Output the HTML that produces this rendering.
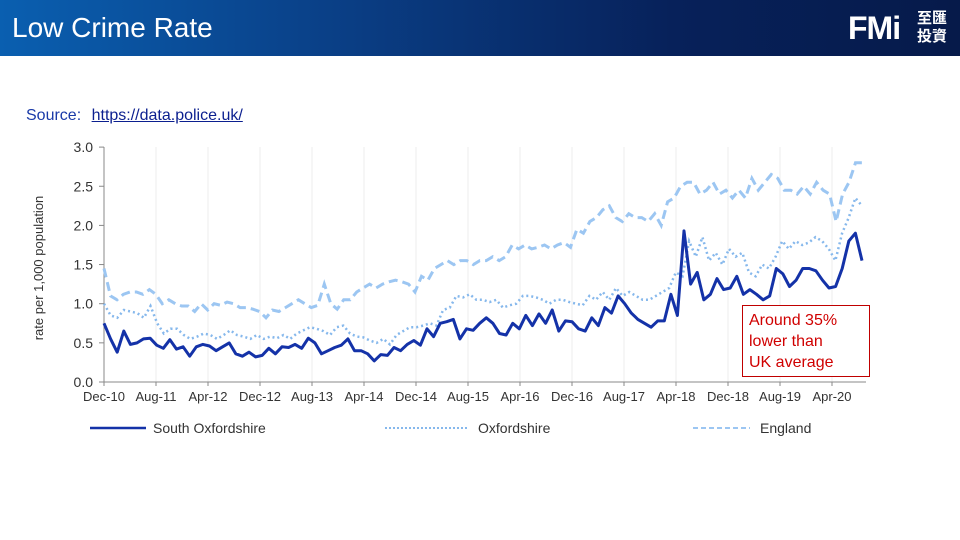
<!DOCTYPE html>
<html><head><meta charset="utf-8"><style>
body{margin:0;width:960px;height:540px;background:#fff;overflow:hidden;font-family:"Liberation Sans",Arial,sans-serif;position:relative}
.hdr{position:absolute;left:0;top:0;width:960px;height:56px;background:linear-gradient(90deg,#0a5fb0 0%,#0a3f86 35%,#07215a 70%,#061a4a 100%)}
.hdr .t{position:absolute;left:12px;top:12px;color:#fff;font-size:28px}
.hdr .l{position:absolute;left:848px;top:10px;color:#fff;font-weight:bold;font-size:32px;letter-spacing:-1px}
.hdr .c{position:absolute;left:917px;top:9px;color:#fff;font-size:15px;line-height:18px;font-family:"Noto Sans CJK TC",sans-serif;font-weight:bold}
.src{position:absolute;left:26px;top:107px;font-size:16px;color:#1a3aa8}
.src u{color:#0b1f8f;margin-left:6px}
</style></head><body>
<div class="hdr"><div class="t">Low Crime Rate</div><div class="l">FMi</div><div class="c">至匯<br>投資</div></div>
<div class="src">Source: <u>https://data.police.uk/</u></div>
<svg id="s" width="960" height="540" style="position:absolute;left:0;top:0" font-family="Liberation Sans,Arial,sans-serif"></svg>
<script>
const S=[0.75,0.55,0.38,0.65,0.48,0.5,0.55,0.56,0.47,0.43,0.54,0.42,0.45,0.33,0.45,0.48,0.46,0.4,0.45,0.5,0.36,0.33,0.38,0.32,0.34,0.43,0.36,0.45,0.44,0.48,0.43,0.56,0.5,0.36,0.4,0.44,0.47,0.55,0.4,0.4,0.36,0.27,0.35,0.34,0.44,0.4,0.48,0.53,0.47,0.68,0.58,0.75,0.77,0.8,0.55,0.68,0.66,0.75,0.82,0.75,0.62,0.6,0.75,0.68,0.85,0.72,0.87,0.75,0.92,0.65,0.78,0.77,0.68,0.65,0.82,0.72,0.95,0.88,1.1,1.0,0.88,0.8,0.75,0.7,0.78,0.78,1.12,0.85,1.93,1.25,1.4,1.05,1.12,1.32,1.18,1.2,1.35,1.12,1.18,1.12,1.05,1.1,1.45,1.38,1.22,1.3,1.45,1.45,1.42,1.3,1.2,1.22,1.45,1.8,1.9,1.55];
const O=[1.0,0.85,0.82,0.92,0.9,0.88,0.82,0.97,0.75,0.62,0.68,0.68,0.6,0.55,0.58,0.62,0.6,0.55,0.6,0.66,0.6,0.58,0.55,0.6,0.55,0.58,0.56,0.6,0.55,0.62,0.66,0.7,0.68,0.65,0.6,0.7,0.72,0.62,0.58,0.57,0.53,0.5,0.55,0.48,0.6,0.65,0.7,0.7,0.72,0.75,0.72,0.92,0.95,1.1,1.08,1.12,1.05,1.05,1.02,1.05,0.95,0.98,1.0,1.1,1.1,1.08,1.05,1.0,1.05,1.05,1.02,1.0,0.98,1.1,1.05,1.15,1.05,1.2,1.1,1.15,1.1,1.05,1.05,1.1,1.15,1.2,1.4,1.35,1.8,1.6,1.85,1.55,1.65,1.5,1.7,1.6,1.65,1.4,1.35,1.5,1.45,1.6,1.8,1.7,1.8,1.75,1.78,1.85,1.8,1.7,1.55,1.9,2.1,2.35,2.25];
const E=[1.45,1.1,1.05,1.12,1.15,1.15,1.12,1.18,1.12,1.0,1.05,1.0,0.97,0.97,0.9,1.0,0.92,1.0,0.98,1.02,1.0,0.95,0.95,0.93,0.9,0.82,0.92,0.9,0.95,1.0,1.05,1.0,0.95,0.98,1.25,1.0,0.93,1.05,1.05,1.15,1.2,1.25,1.2,1.25,1.28,1.3,1.28,1.25,1.15,1.35,1.3,1.45,1.5,1.55,1.5,1.55,1.55,1.5,1.55,1.55,1.6,1.55,1.6,1.75,1.7,1.75,1.7,1.72,1.75,1.7,1.75,1.78,1.72,1.95,1.9,2.05,2.1,2.2,2.25,2.1,2.05,2.15,2.1,2.1,2.05,2.15,2.0,2.3,2.35,2.5,2.55,2.55,2.4,2.45,2.55,2.4,2.45,2.35,2.45,2.35,2.6,2.45,2.55,2.65,2.6,2.45,2.45,2.4,2.5,2.4,2.55,2.45,2.4,2.05,2.4,2.55,2.8,2.8];
const x0=104,yb=382,k=78.3;
let h='';
const labs=['Dec-10','Aug-11','Apr-12','Dec-12','Aug-13','Apr-14','Dec-14','Aug-15','Apr-16','Dec-16','Aug-17','Apr-18','Dec-18','Aug-19','Apr-20'];
labs.forEach((l,i)=>{const x=x0+i*52;if(i>0)h+=`<line x1="${x}" y1="147" x2="${x}" y2="382" stroke="#ececec"/>`;h+=`<line x1="${x}" y1="382" x2="${x}" y2="386" stroke="#888"/><text x="${x}" y="401" font-size="13" text-anchor="middle" fill="#333">${l}</text>`;});
for(let i=0;i<=6;i++){const y=yb-i*0.5*k;h+=`<line x1="99" y1="${y}" x2="104" y2="${y}" stroke="#888"/><text x="93" y="${y+5}" font-size="14" text-anchor="end" fill="#333">${(i*0.5).toFixed(1)}</text>`;}
h+=`<line x1="104" y1="147" x2="104" y2="382" stroke="#888"/><line x1="104" y1="382" x2="866" y2="382" stroke="#888"/>`;
h+=`<text transform="translate(43,268) rotate(-90)" font-size="13" text-anchor="middle" fill="#333">rate per 1,000 population</text>`;
const pl=(a,st)=>{const step=(862-x0)/(a.length-1);return `<polyline fill="none" ${st} points="${a.map((v,i)=>(x0+i*step).toFixed(1)+','+(yb-v*k).toFixed(1)).join(' ')}"/>`;};
h+=pl(E,'stroke="#9cc6f2" stroke-width="3" stroke-dasharray="9,5"');
h+=pl(O,'stroke="#86b8ec" stroke-width="2.5" stroke-dasharray="2,3"');
h+=pl(S,'stroke="#1432a8" stroke-width="3" stroke-linejoin="round"');
h+=`<line x1="90" y1="428" x2="146" y2="428" stroke="#1432a8" stroke-width="2.5"/><text x="153" y="433" font-size="14" fill="#333">South Oxfordshire</text>`;
h+=`<line x1="385" y1="428" x2="468" y2="428" stroke="#86b8ec" stroke-width="2" stroke-dasharray="2,2"/><text x="478" y="433" font-size="14" fill="#333">Oxfordshire</text>`;
h+=`<line x1="693" y1="428" x2="750" y2="428" stroke="#9cc6f2" stroke-width="2" stroke-dasharray="5,3"/><text x="760" y="433" font-size="14" fill="#333">England</text>`;
h+=`<rect x="742.5" y="305.5" width="127" height="71" fill="#fff" stroke="#c00000"/><text font-size="16" fill="#d00000"><tspan x="749" y="325">Around 35%</tspan><tspan x="749" y="346">lower than</tspan><tspan x="749" y="367">UK average</tspan></text>`;
document.getElementById('s').innerHTML=h;
</script>
</body></html>
